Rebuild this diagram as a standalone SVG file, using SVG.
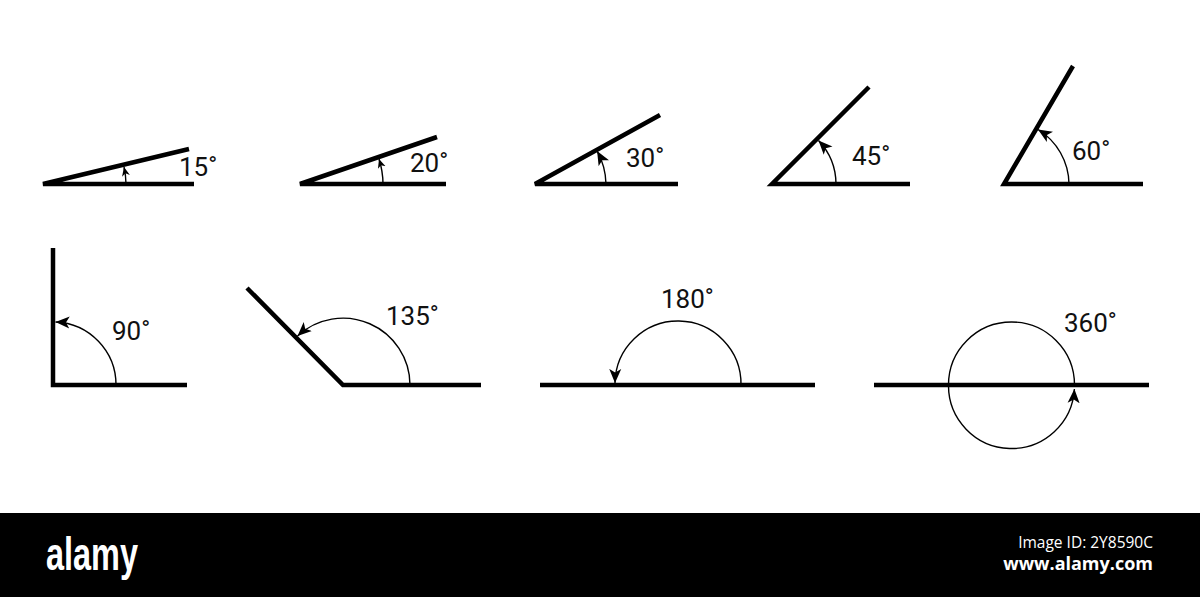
<svg xmlns="http://www.w3.org/2000/svg" width="1200" height="597" viewBox="0 0 1200 597">
  <style>
    .ray { fill: none; stroke: #000; stroke-width: 4.5; stroke-linejoin: miter; stroke-miterlimit: 4; }
    .arc { fill: none; stroke: #000; stroke-width: 1.4; }
    .lbl { font-family: Roboto, "Liberation Sans", sans-serif; font-size: 26px; fill: #111; }
    .deg { font-size: 24px; }
  </style>
  <defs>
    <marker id="ah" markerUnits="userSpaceOnUse" markerWidth="15" markerHeight="13" refX="14" refY="6.5" orient="auto">
      <path d="M0,0.5 L14,6.5 L0,12.5 L3.5,6.5 Z" fill="#000"/>
    </marker>
    <marker id="ahs" markerUnits="userSpaceOnUse" markerWidth="10" markerHeight="10" refX="9" refY="4.5" orient="auto">
      <path d="M0,0.5 L9,4.5 L0,8.5 L2.5,4.5 Z" fill="#000"/>
    </marker>
  </defs>
  <rect width="1200" height="597" fill="#fff"/>

  <g id="angle-15">
    <polyline class="ray" points="189,149 43,184 194,184"/>
    <path class="arc" d="M126,184 A83,83 0 0 0 124,167" marker-end="url(#ahs)"/>
    <text class="lbl" x="179" y="176">15<tspan class="deg" dy="-3">°</tspan></text>
  </g>

  <g id="angle-20">
    <polyline class="ray" points="437,137 300,184 446,184"/>
    <path class="arc" d="M383,184 A83,83 0 0 0 379,159" marker-end="url(#ahs)"/>
    <text class="lbl" x="410" y="172">20<tspan class="deg" dy="-3">°</tspan></text>
  </g>

  <g id="angle-30">
    <polyline class="ray" points="660,115 535,184 678,184"/>
    <path class="arc" d="M606,184 A71,71 0 0 0 597.1,151" marker-end="url(#ah)"/>
    <text class="lbl" x="626" y="167">30<tspan class="deg" dy="-3">°</tspan></text>
  </g>

  <g id="angle-45">
    <polyline class="ray" points="869,87 772,184 910,184"/>
    <path class="arc" d="M836,184 A64,64 0 0 0 818.5,140.5" marker-end="url(#ah)"/>
    <text class="lbl" x="852" y="165">45<tspan class="deg" dy="-3">°</tspan></text>
  </g>

  <g id="angle-60">
    <polyline class="ray" points="1073,66 1004,184 1143,184"/>
    <path class="arc" d="M1069,184 A65,65 0 0 0 1038,129.5" marker-end="url(#ah)"/>
    <text class="lbl" x="1072" y="160">60<tspan class="deg" dy="-3">°</tspan></text>
  </g>

  <g id="angle-90">
    <polyline class="ray" points="53,248 53,385 187,385"/>
    <path class="arc" d="M116,385 A63,63 0 0 0 55.5,322" marker-end="url(#ah)"/>
    <text class="lbl" x="112" y="340">90<tspan class="deg" dy="-3">°</tspan></text>
  </g>

  <g id="angle-135">
    <polyline class="ray" points="247,288 343,385 481,385"/>
    <path class="arc" d="M410,385 A67,67 0 0 0 297.5,336" marker-end="url(#ah)"/>
    <text class="lbl" x="386" y="325">135<tspan class="deg" dy="-3">°</tspan></text>
  </g>

  <g id="angle-180">
    <line class="ray" x1="540" y1="385" x2="815" y2="385"/>
    <path class="arc" d="M741,385 A63,63 0 0 0 615,383" marker-end="url(#ah)"/>
    <text class="lbl" x="661" y="308">180<tspan class="deg" dy="-3">°</tspan></text>
  </g>

  <g id="angle-360">
    <line class="ray" x1="874" y1="385" x2="1149" y2="385"/>
    <path class="arc" d="M1074.5,385 A63,63 0 0 0 948.5,385 A63,63 0 0 0 1074.4,389" marker-end="url(#ah)"/>
    <text class="lbl" x="1064" y="332">360<tspan class="deg" dy="-3">°</tspan></text>
  </g>

  <g id="banner">
    <rect x="0" y="513" width="1200" height="84" fill="#000"/>
    <text x="46" y="570" font-family="'Liberation Sans Narrow', 'Liberation Sans', sans-serif" font-weight="bold" font-size="46" fill="#fff" textLength="92" lengthAdjust="spacingAndGlyphs">alamy</text>
    <text x="1153" y="548" text-anchor="end" font-family="'Open Sans', 'Noto Sans', sans-serif" font-size="15.5" fill="#fff">Image ID: 2Y8590C</text>
    <text x="1153" y="570" text-anchor="end" font-family="'Open Sans', 'Noto Sans', sans-serif" font-weight="bold" font-size="18" fill="#fff">www.alamy.com</text>
  </g>
</svg>
